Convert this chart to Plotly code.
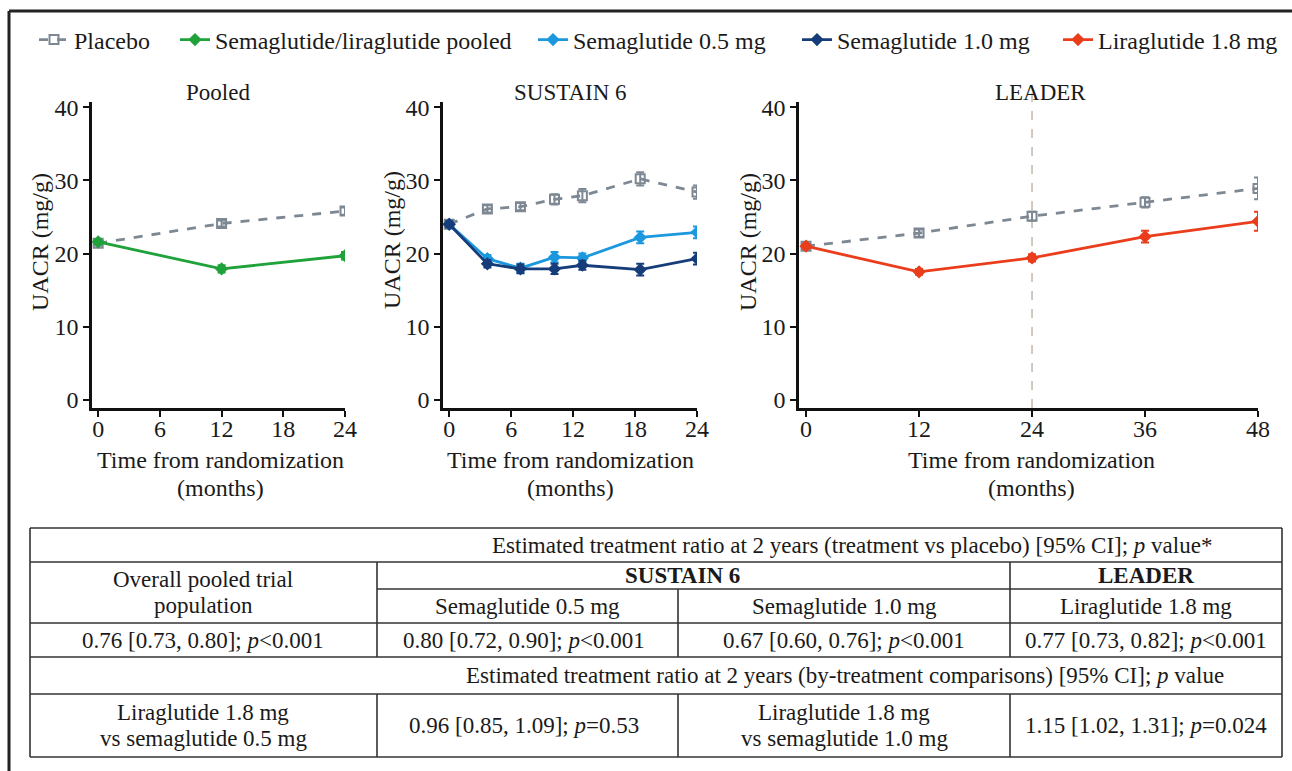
import plotly.graph_objects as go

W, H = 1292, 771
FONT = "Liberation Serif"
TXT = "#1a1a1a"

# ---------------- data ----------------
pooled_months = [0, 12, 24]
pooled_placebo = [21.4, 24.1, 25.8]
pooled_placebo_err = [0.3, 0.4, 0.5]
pooled_active = [21.6, 17.9, 19.7]
pooled_active_err = [0.3, 0.5, 0.5]

sustain_months = [0, 3.7, 6.9, 10.2, 12.9, 18.5, 24]
sustain_placebo = [24.0, 26.1, 26.4, 27.4, 27.9, 30.2, 28.4]
sustain_placebo_err = [0.4, 0.5, 0.5, 0.7, 0.9, 0.9, 0.9]
sema05 = [24.0, 19.3, 18.0, 19.5, 19.4, 22.2, 22.9]
sema05_err = [0.4, 0.5, 0.6, 0.7, 0.6, 0.8, 0.8]
sema10 = [24.0, 18.6, 17.9, 17.9, 18.4, 17.8, 19.3]
sema10_err = [0.4, 0.5, 0.6, 0.7, 0.6, 0.8, 0.8]

leader_months = [0, 12, 24, 36, 48]
leader_placebo = [21.0, 22.8, 25.1, 27.0, 28.9]
leader_placebo_err = [0.3, 0.5, 0.6, 0.7, 1.5]
lira18 = [21.0, 17.5, 19.4, 22.3, 24.4]
lira18_err = [0.3, 0.4, 0.5, 0.8, 1.3]

panel_titles = ["Pooled", "SUSTAIN 6", "LEADER"]
y_ticks = [0, 10, 20, 30, 40]
x_ticks_24 = [0, 6, 12, 18, 24]
x_ticks_48 = [0, 12, 24, 36, 48]

legend_names = ["Placebo", "Semaglutide/liraglutide pooled", "Semaglutide 0.5 mg",
                "Semaglutide 1.0 mg", "Liraglutide 1.8 mg"]

table_header = "Estimated treatment ratio at 2 years (treatment vs placebo) [95% CI]; <i>p</i> value*"
table_col1_head = ["Overall pooled trial", "population"]
table_trials = ["<b>SUSTAIN 6</b>", "<b>LEADER</b>"]
table_treatments = ["Semaglutide 0.5 mg", "Semaglutide 1.0 mg", "Liraglutide 1.8 mg"]
table_vs_placebo = ["0.76 [0.73, 0.80]; <i>p</i>&lt;0.001", "0.80 [0.72, 0.90]; <i>p</i>&lt;0.001",
                    "0.67 [0.60, 0.76]; <i>p</i>&lt;0.001", "0.77 [0.73, 0.82]; <i>p</i>&lt;0.001"]
table_header2 = "Estimated treatment ratio at 2 years (by-treatment comparisons) [95% CI]; <i>p</i> value"
table_comp1 = ["Liraglutide 1.8 mg", "vs semaglutide 0.5 mg"]
table_comp1_val = "0.96 [0.85, 1.09]; <i>p</i>=0.53"
table_comp2 = ["Liraglutide 1.8 mg", "vs semaglutide 1.0 mg"]
table_comp2_val = "1.15 [1.02, 1.31]; <i>p</i>=0.024"

# ---------------- styles ----------------
C_PLAC = "#7d8893"
C_POOL = "#1fa23a"
C_S05 = "#1b98de"
C_S10 = "#163d7a"
C_LIRA = "#ea3d1c"


def X(px):
    return px / W


def Y(py):
    return 1 - py / H


fig = go.Figure()


def add_series(x, y, err, color, name, axis, legend, show, dashed=False, symbol="diamond"):
    fig.add_trace(go.Scatter(
        x=x, y=y, mode="lines+markers", name=name,
        xaxis="x" + axis, yaxis="y" + axis,
        line=dict(color=color, width=2.8, dash="dash" if dashed else "solid"),
        marker=dict(symbol=symbol, size=9 if dashed else 8, color=color,
                    line=dict(color=color, width=2)),
        error_y=dict(type="data", array=err, visible=True, color=color, thickness=2, width=4),
        showlegend=show, legend=legend,
    ))


# pooled
add_series(pooled_months, pooled_placebo, pooled_placebo_err, C_PLAC, legend_names[0], "", "legend", True, True, "square-open")
add_series(pooled_months, pooled_active, pooled_active_err, C_POOL, legend_names[1], "", "legend2", True)
# sustain 6
add_series(sustain_months, sustain_placebo, sustain_placebo_err, C_PLAC, legend_names[0], "2", "legend", False, True, "square-open")
add_series(sustain_months, sema05, sema05_err, C_S05, legend_names[2], "2", "legend3", True)
add_series(sustain_months, sema10, sema10_err, C_S10, legend_names[3], "2", "legend4", True)
# leader
add_series(leader_months, leader_placebo, leader_placebo_err, C_PLAC, legend_names[0], "3", "legend", False, True, "square-open")
add_series(leader_months, lira18, lira18_err, C_LIRA, legend_names[4], "3", "legend5", True)

ydom = [Y(408), Y(102)]
axis_common = dict(showline=True, linecolor="#111", linewidth=2.5, ticks="outside", ticklen=6,
                   tickwidth=2, tickcolor="#111", showgrid=False, zeroline=False,
                   tickfont=dict(family=FONT, size=24, color=TXT))

fig.update_layout(
    xaxis=dict(domain=[X(92), X(345)], range=[-0.6, 24], tickvals=x_ticks_24, anchor="y",
               ticklabelstandoff=-9, **axis_common),
    yaxis=dict(domain=ydom, range=[-1.1, 40.7], tickvals=y_ticks, anchor="x", **axis_common),
    xaxis2=dict(domain=[X(443), X(697)], range=[-0.6, 24], tickvals=x_ticks_24, anchor="y2",
                ticklabelstandoff=-9, **axis_common),
    yaxis2=dict(domain=ydom, range=[-1.1, 40.7], tickvals=y_ticks, anchor="x2", **axis_common),
    xaxis3=dict(domain=[X(799), X(1258)], range=[-0.75, 48], tickvals=x_ticks_48, anchor="y3",
                ticklabelstandoff=-9, **axis_common),
    yaxis3=dict(domain=ydom, range=[-1.1, 40.7], tickvals=y_ticks, anchor="x3", **axis_common),
)

# legends (one per entry so each sits where the reference places it)
legend_text_x = [74, 215, 573, 837, 1098]
for i, tx in enumerate(legend_text_x):
    key = "legend" if i == 0 else f"legend{i + 1}"
    fig.layout[key] = dict(x=X(tx - 40), y=Y(40), xanchor="left", yanchor="middle",
                           orientation="h", bgcolor="rgba(0,0,0,0)", borderwidth=0,
                           font=dict(family=FONT, size=24, color=TXT))

ann = []


def text(x, y, s, size=23, angle=0):
    ann.append(dict(x=X(x), y=Y(y), xref="paper", yref="paper", text=s, showarrow=False,
                    xanchor="center", yanchor="middle", textangle=angle,
                    font=dict(family=FONT, size=size, color=TXT)))


# panel titles
for cx, t in zip([218, 570, 1040], panel_titles):
    text(cx, 92, t, 23)
# axis titles
for cx in [220, 570, 1031]:
    text(cx, 460, "Time from randomization", 24)
    text(cx, 488, "(months)", 24)
for cx, cy in [(40, 242), (392, 240), (748, 242)]:
    text(cx, cy, "UACR (mg/g)", 24, -90)

# table text
text(852, 545, table_header)
text(203.5, 579.5, table_col1_head[0])
text(203.5, 605.5, table_col1_head[1])
text(682, 575.5, table_trials[0])
text(1146, 575.5, table_trials[1])
for cx, t in zip([527.5, 844, 1146], table_treatments):
    text(cx, 606, t)
for cx, t in zip([203.5, 524, 844, 1146], table_vs_placebo):
    text(cx, 640, t)
text(845, 675, table_header2)
text(203.5, 712.5, table_comp1[0])
text(203.5, 738.5, table_comp1[1])
text(524, 725, table_comp1_val)
text(844, 712.5, table_comp2[0])
text(844, 738.5, table_comp2[1])
text(1146, 725, table_comp2_val)

fig.update_layout(annotations=ann)

shapes = []


def hline(y, x0, x1, w=1.6, c="#333"):
    shapes.append(dict(type="line", xref="paper", yref="paper", x0=X(x0), x1=X(x1), y0=Y(y), y1=Y(y),
                       line=dict(color=c, width=w)))


def vline(x, y0, y1, w=1.6, c="#333"):
    shapes.append(dict(type="line", xref="paper", yref="paper", x0=X(x), x1=X(x), y0=Y(y0), y1=Y(y1),
                       line=dict(color=c, width=w)))


# outer frame
hline(11, 9, 1292, 3, "#222")
vline(9, 11, 771, 3, "#222")
# table grid
for yy in [528, 562, 623, 657, 694, 757]:
    hline(yy, 30, 1282)
hline(589, 377, 1282)
vline(30, 528, 757)
vline(1282, 528, 757)
for xx in [377, 1010]:
    vline(xx, 562, 657)
    vline(xx, 694, 757)
vline(678, 589, 657)
vline(678, 694, 757)

# LEADER dashed reference line at 24 months
shapes.append(dict(type="line", xref="x3", yref="y3 domain", x0=24, x1=24, y0=0, y1=1.03,
                   line=dict(color="#c2b8ac", width=1.5, dash="dash"), layer="below"))

fig.update_layout(shapes=shapes, width=W, height=H,
                  margin=dict(l=0, r=0, t=0, b=0, autoexpand=False),
                  paper_bgcolor="white", plot_bgcolor="white", font=dict(family=FONT, color=TXT))

fig.write_html(
    "out.html",
    config={"displayModeBar": False, "responsive": False},
    post_script=("document.documentElement.style.margin='0';document.body.style.margin='0';"
                 "document.documentElement.style.overflow='hidden';document.body.style.overflow='hidden';"),
)
